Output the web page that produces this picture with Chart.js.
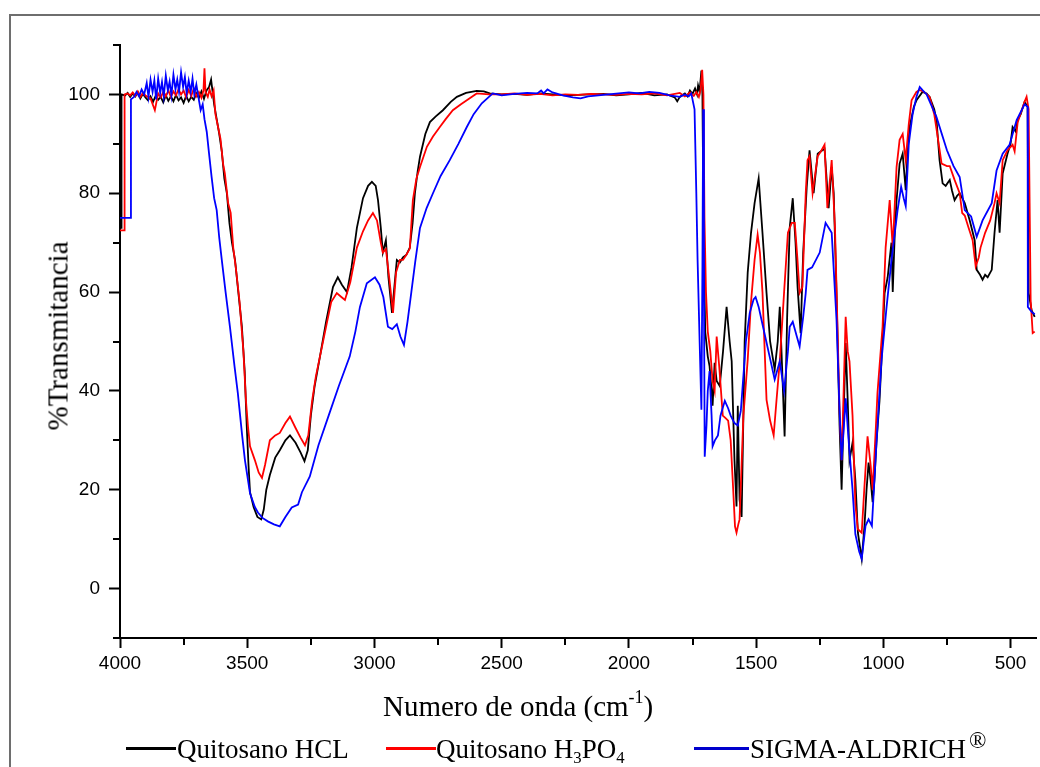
<!DOCTYPE html>
<html>
<head>
<meta charset="utf-8">
<title>Espectro FTIR quitosano</title>
<script src="https://cdn.jsdelivr.net/npm/chart.js@4.4.1/dist/chart.umd.min.js"></script>
<style>
    html, body { margin: 0; padding: 0; background: #fff; overflow: hidden; }
    #wrap { position: relative; width: 1040px; height: 767px; overflow: hidden; }
    #chart { position: absolute; left: 0; top: 0; }
    .frame { position: absolute; left: 9px; top: 14px; width: 1200px; height: 900px; border: 2px solid #6e6e6e; box-sizing: border-box; }
    .serif { position: absolute; font-family: 'Liberation Serif', 'Times New Roman', serif; color: #000; white-space: nowrap; line-height: 1; }
    .ytitle { font-size: 29px; left: 58px; top: 336px; transform: translate(-50%, -50%) rotate(-90deg); }
    .xtitle { font-size: 29px; left: 383px; top: 692px; }
    .legend-text { font-size: 27px; top: 736px; }
    .legend-line { position: absolute; top: 747px; height: 3px; }
    sub, sup { font-size: 62%; line-height: 0; }
    sub { vertical-align: -0.3em; }
    sup { vertical-align: 0.75em; }
    sup.reg { font-size: 85%; vertical-align: 0.45em; margin-left: 3px; }
</style>
</head>
<body>
<div id="wrap">
    <div class="frame"></div>
    <canvas id="chart" width="1040" height="767"></canvas>
    <div class="serif ytitle">%Transmitancia</div>
    <div class="serif xtitle">Numero de onda (cm<sup>-1</sup>)</div>
    <div class="legend-line" style="left:126px;width:50px;background:#000;"></div>
    <div class="serif legend-text" style="left:177px;">Quitosano HCL</div>
    <div class="legend-line" style="left:386px;width:50px;background:#ff0000;"></div>
    <div class="serif legend-text" style="left:436px;">Quitosano H<sub>3</sub>PO<sub>4</sub></div>
    <div class="legend-line" style="left:694px;width:55px;background:#0000cc;"></div>
    <div class="serif legend-text" style="left:750px;">SIGMA-ALDRICH<sup class="reg">&reg;</sup></div>
</div>
<script>
// --- data (wavenumber in cm-1, %T) ---
const wnHCL = [4000, 3996, 3994, 3980, 3970, 3960, 3950, 3940, 3930, 3920, 3910, 3900, 3890, 3880, 3870, 3860, 3850, 3840, 3830, 3820, 3810, 3800, 3790, 3780, 3770, 3760, 3750, 3740, 3730, 3720, 3710, 3700, 3690, 3680, 3670, 3660, 3650, 3642, 3636, 3630, 3620, 3610, 3600, 3590, 3580, 3570, 3560, 3548, 3535, 3521, 3510, 3502, 3495, 3489, 3475, 3460, 3445, 3435, 3425, 3411, 3390, 3372, 3350, 3332, 3310, 3290, 3275, 3262, 3250, 3235, 3214, 3190, 3163, 3144, 3128, 3108, 3090, 3069, 3045, 3025, 3010, 2995, 2986, 2975, 2967, 2955, 2945, 2931, 2920, 2912, 2900, 2888, 2875, 2861, 2850, 2841, 2830, 2821, 2800, 2782, 2760, 2731, 2700, 2676, 2640, 2598, 2570, 2547, 2500, 2450, 2400, 2350, 2300, 2250, 2200, 2150, 2100, 2050, 2000, 1950, 1900, 1850, 1820, 1810, 1800, 1780, 1770, 1760, 1750, 1740, 1732, 1728, 1722, 1715, 1711, 1706, 1700, 1690, 1683, 1675, 1671, 1663, 1655, 1643, 1630, 1616, 1604, 1596, 1585, 1577, 1572, 1565, 1557, 1550, 1545, 1533, 1520, 1506, 1490, 1475, 1459, 1445, 1427, 1415, 1407, 1398, 1388, 1378, 1368, 1356, 1345, 1337, 1325, 1315, 1301, 1290, 1274, 1258, 1245, 1231, 1215, 1203, 1195, 1184, 1172, 1164, 1156, 1148, 1140, 1133, 1121, 1110, 1100, 1085, 1074, 1066, 1058, 1050, 1042, 1035, 1027, 1015, 1007, 995, 983, 968, 963, 955, 948, 936, 924, 912, 905, 897, 880, 869, 846, 830, 818, 800, 791, 779, 767, 755, 739, 730, 720, 710, 700, 690, 680, 661, 641, 633, 620, 610, 600, 590, 574, 563, 551, 543, 531, 512, 500, 492, 480, 472, 460, 445, 433, 429, 417, 405];
const tHCL = [73, 73, 100, 99.8, 100.3, 99.5, 100.2, 99.6, 100.4, 99.2, 100.1, 99.4, 98.8, 99.6, 98.5, 99.7, 98.9, 99.5, 98.4, 99.8, 98.7, 99.6, 98.6, 99.9, 98.8, 99.4, 98.3, 99.7, 98.6, 99.5, 98.9, 100.2, 99.3, 100.6, 99.1, 100.8, 101.5, 103, 100.5, 98, 95, 92, 88.5, 83, 80, 74, 70, 66.5, 60, 53, 44, 33, 25, 19.5, 16.5, 14.5, 14, 16, 20, 23, 26.5, 28, 30, 31, 29.5, 27.5, 25.8, 28, 35, 41, 47, 54, 61, 63, 61.5, 60, 65, 73, 79, 81.5, 82.3, 81.5, 78.6, 73, 68, 70.5, 63, 55.8, 62, 66.5, 66, 67, 67.5, 69, 74, 80, 84.5, 87.4, 92, 94.4, 95.5, 96.8, 98.5, 99.5, 100.3, 100.7, 100.6, 100.2, 100, 100.1, 99.9, 100.2, 100, 99.8, 99.9, 100, 100.1, 99.8, 100, 100.3, 99.8, 100, 99.4, 98.6, 99.5, 100.2, 99.6, 100.8, 100.1, 101.2, 100, 101.8, 100.6, 104.8, 100, 70, 52, 47, 45, 40, 37, 45.7, 42, 41, 48, 57, 50, 46, 26, 16.6, 37, 18, 14.5, 35, 50, 64, 72, 78, 83, 72, 59.8, 50, 44.3, 50, 57, 45, 30.8, 55, 73, 79, 70, 61, 51.7, 68, 81.3, 88.7, 80, 88, 88.5, 89, 77, 85.3, 80, 59.8, 33, 20, 35, 49.7, 38, 26, 29.5, 22, 11.3, 6, 12.7, 20, 25.5, 22, 17.5, 22, 29.5, 38, 46.3, 59.8, 63, 70, 60, 72, 78.6, 86, 88, 80.6, 88, 93.4, 97.5, 98.9, 100.5, 100.2, 99.5, 97, 94.8, 86.7, 82, 81.5, 82.7, 80.5, 78.6, 79.5, 80, 79, 78, 74.6, 70.5, 64.5, 63.5, 62.5, 63.5, 63, 64.5, 72, 78.6, 72, 84, 88, 90, 93.4, 92.5, 94.8, 96, 98.5, 97.5, 59.8, 56.3, 55];

const wnH3PO4 = [4000, 3984, 3982, 3970, 3960, 3950, 3940, 3930, 3920, 3910, 3900, 3880, 3863, 3850, 3840, 3830, 3820, 3810, 3800, 3790, 3780, 3770, 3760, 3750, 3740, 3730, 3720, 3710, 3700, 3690, 3680, 3672, 3668, 3664, 3655, 3648, 3640, 3632, 3625, 3615, 3605, 3595, 3588, 3575, 3565, 3555, 3545, 3530, 3515, 3505, 3497, 3489, 3470, 3455, 3442, 3430, 3411, 3390, 3372, 3350, 3332, 3310, 3290, 3273, 3260, 3245, 3230, 3214, 3190, 3170, 3148, 3130, 3116, 3095, 3069, 3045, 3025, 3006, 2990, 2975, 2967, 2955, 2940, 2927, 2915, 2900, 2888, 2875, 2861, 2849, 2835, 2821, 2794, 2770, 2743, 2720, 2692, 2660, 2637, 2598, 2550, 2500, 2450, 2400, 2350, 2300, 2250, 2200, 2150, 2100, 2050, 2000, 1950, 1900, 1850, 1800, 1780, 1760, 1745, 1735, 1725, 1718, 1712, 1707, 1703, 1697, 1690, 1680, 1671, 1663, 1655, 1645, 1631, 1620, 1610, 1600, 1590, 1583, 1577, 1570, 1565, 1550, 1533, 1520, 1506, 1494, 1485, 1475, 1459, 1445, 1431, 1420, 1407, 1390, 1375, 1360, 1348, 1338, 1329, 1318, 1305, 1298, 1290, 1278, 1258, 1245, 1231, 1220, 1203, 1190, 1172, 1164, 1156, 1148, 1140, 1133, 1121, 1110, 1100, 1085, 1075, 1062, 1050, 1042, 1030, 1023, 1003, 991, 975, 963, 948, 936, 924, 912, 900, 889, 870, 857, 840, 818, 800, 791, 771, 750, 739, 720, 700, 690, 680, 665, 649, 637, 625, 618, 600, 580, 563, 555, 543, 531, 512, 492, 484, 472, 445, 437, 429, 421, 413, 405];
const tH3PO4 = [72.5, 72.5, 100, 100.2, 99.8, 100.4, 99.7, 100.6, 99.5, 100.3, 99.8, 99.2, 96.8, 100.2, 99.4, 100.5, 99.6, 100.8, 99.5, 100.6, 99.8, 101, 100, 100.8, 99.4, 100.9, 99.7, 101.2, 99.6, 100.5, 99.3, 100.8, 105.3, 100.5, 99.5, 101, 99.6, 100.8, 96, 93.5, 91, 86, 84, 78, 76, 69, 65, 58, 48, 38, 32.8, 28.8, 26, 23.5, 22.4, 25, 30, 31, 31.5, 33.5, 34.8, 32.5, 30.5, 29, 31, 38, 43, 47, 53, 58, 59.8, 59, 58.4, 62, 69, 72.3, 74.5, 76, 74.5, 70, 68, 68.7, 62, 55.8, 64, 66.5, 66.5, 67.5, 68.8, 78.6, 83, 85.3, 89.4, 91.5, 93.4, 95, 96.8, 98, 98.8, 100.2, 100, 100, 100.2, 99.9, 100.1, 99.8, 100, 99.9, 100.1, 100, 99.9, 100.1, 100, 100.2, 99.8, 100.3, 99.6, 100.4, 99.7, 100.5, 99.5, 101, 105, 100, 75, 60, 52, 48, 42, 40, 51, 45, 35, 34.5, 34, 30, 20, 12.6, 11.3, 13, 14, 35, 46.3, 58, 66.5, 71.6, 68, 60, 38.2, 34, 31, 38, 46, 60, 72, 74, 74, 67, 59.8, 61, 80, 86.7, 87.5, 80, 87.5, 88.5, 89.8, 77, 86.7, 73, 36, 26, 40, 55, 48, 46, 35, 17, 12, 11.3, 20, 30.8, 25, 20, 32, 39.6, 53, 69, 78.6, 69, 85.3, 90.8, 92, 86.7, 94, 98.8, 100.5, 100.9, 100.5, 99.5, 96, 93, 86, 85.5, 85.5, 82.7, 80, 76, 75.5, 73, 70.5, 65.2, 67, 69, 72, 74.5, 78, 80, 78, 86.7, 88.7, 89.8, 88.5, 94.4, 98.5, 99.5, 97, 58.4, 51.7, 52];

const wnSigma = [4000, 3960, 3957, 3945, 3935, 3925, 3915, 3905, 3895, 3888, 3880, 3872, 3865, 3858, 3850, 3842, 3835, 3828, 3820, 3812, 3805, 3798, 3790, 3782, 3775, 3768, 3760, 3752, 3745, 3738, 3730, 3722, 3715, 3708, 3700, 3692, 3683, 3675, 3668, 3659, 3650, 3640, 3630, 3620, 3610, 3600, 3585, 3568, 3550, 3537, 3520, 3509, 3489, 3470, 3458, 3440, 3419, 3395, 3372, 3350, 3325, 3300, 3285, 3254, 3220, 3180, 3140, 3097, 3075, 3057, 3030, 2998, 2980, 2965, 2947, 2930, 2912, 2898, 2884, 2870, 2855, 2840, 2821, 2795, 2770, 2740, 2704, 2670, 2637, 2610, 2578, 2535, 2500, 2450, 2400, 2360, 2345, 2335, 2320, 2300, 2260, 2220, 2190, 2160, 2120, 2080, 2040, 2000, 1960, 1920, 1880, 1840, 1800, 1780, 1765, 1755, 1750, 1742, 1735, 1730, 1722, 1715, 1711, 1708, 1705, 1702, 1695, 1690, 1683, 1675, 1671, 1662, 1650, 1640, 1623, 1610, 1600, 1585, 1572, 1560, 1550, 1540, 1525, 1510, 1502, 1490, 1475, 1460, 1447, 1427, 1407, 1390, 1375, 1368, 1356, 1340, 1329, 1315, 1305, 1298, 1280, 1250, 1227, 1215, 1203, 1190, 1184, 1172, 1164, 1156, 1148, 1135, 1121, 1110, 1095, 1085, 1070, 1058, 1045, 1027, 1007, 988, 968, 944, 930, 920, 912, 900, 885, 870, 857, 845, 830, 791, 750, 724, 700, 680, 655, 633, 610, 574, 555, 531, 504, 476, 445, 433, 432, 417, 405];
const tSigma = [75, 75, 99, 99.5, 100.5, 99.6, 101, 100, 102.3, 99.5, 103, 100.5, 102.8, 99, 103.2, 100.3, 102.5, 99.6, 103.8, 100.8, 102.6, 99.8, 104, 101, 103, 100.5, 104.5, 101.5, 103.5, 100.2, 102.8, 100.5, 103.2, 100, 102, 99.5, 96.8, 98, 95, 92.4, 88, 83.3, 79, 76.6, 71, 66.5, 60, 53, 45, 39.6, 31, 26, 19.3, 16.5, 15.4, 14.3, 13.6, 13, 12.6, 14.5, 16.4, 17, 19.5, 22.7, 29, 35, 41, 47, 52, 57, 61.8, 63, 61.5, 59, 53, 52.5, 53.5, 51, 49.3, 54, 60, 66, 73, 77, 80, 83.5, 86.7, 90, 93.4, 96, 98.2, 100.2, 99.8, 100.1, 100.3, 100.2, 100.8, 100.2, 101, 100.4, 99.8, 99.4, 99.2, 99.6, 99.8, 100, 100.2, 100.4, 100.2, 100.5, 100.3, 99.8, 99.5, 100, 99.6, 100.2, 99, 97, 80, 66.5, 50, 36.2, 65, 97, 60, 26.7, 33, 40, 44, 35, 28.8, 30, 31, 35, 38, 36.5, 35, 33.5, 33, 36, 43, 50, 55.8, 58.5, 59, 57, 53.5, 50, 47, 42.3, 46, 40, 48, 53, 54, 51, 49, 55, 59.8, 64.5, 65, 68, 74, 73, 72, 60, 54.4, 36, 26, 32, 38.5, 29, 20, 11, 7.5, 6, 12.7, 14, 12.7, 29.5, 46.3, 56.6, 66.5, 76.6, 81.3, 79, 77.4, 90, 96, 99.5, 101.5, 100.8, 100, 95.4, 88.7, 85.5, 83.3, 76.6, 75.3, 71.2, 74.5, 78, 84.6, 88, 89.8, 94.8, 98, 97.5, 57, 56, 55.5];

const xTicks = [4000, 3750, 3500, 3250, 3000, 2750, 2500, 2250, 2000, 1750, 1500, 1250, 1000, 750, 500];
const yTicks = [-10, 0, 10, 20, 30, 40, 50, 60, 70, 80, 90, 100, 110];

document.addEventListener('DOMContentLoaded', () => {
    const toPoints = (wn, t) => wn.map((w, i) => ({ x: w, y: t[i] }));

    const isMajorX = v => v % 500 === 0;
    const isMajorY = v => v % 20 === 0;

    // short minor ticks, drawn by hand since Chart.js has one tick length per axis
    const minorTicks = {
        id: 'minorTicks',
        afterDraw(chart) {
            const { ctx, scales: { x, y } } = chart;
            ctx.save();
            ctx.strokeStyle = '#000';
            ctx.lineWidth = 2;
            ctx.beginPath();
            xTicks.filter(v => !isMajorX(v)).forEach(v => {
                const px = Math.round(x.getPixelForValue(v));
                ctx.moveTo(px, x.top);
                ctx.lineTo(px, x.top + 7);
            });
            yTicks.filter(v => !isMajorY(v)).forEach(v => {
                const py = Math.round(y.getPixelForValue(v));
                ctx.moveTo(y.right, py);
                ctx.lineTo(y.right - 7, py);
            });
            ctx.stroke();
            ctx.restore();
        }
    };

    const tickFont = { family: "'Liberation Sans', Arial, sans-serif", size: 19 };

    new Chart(document.getElementById('chart'), {
        type: 'line',
        data: {
            datasets: [
                {
                    label: 'Quitosano HCL',
                    data: toPoints(wnHCL, tHCL),
                    borderColor: '#000000',
                    order: 3
                },
                {
                    label: 'Quitosano H3PO4',
                    data: toPoints(wnH3PO4, tH3PO4),
                    borderColor: '#ff0000',
                    order: 2
                },
                {
                    label: 'SIGMA-ALDRICH',
                    data: toPoints(wnSigma, tSigma),
                    borderColor: '#0000ff',
                    order: 1
                }
            ]
        },
        options: {
            responsive: false,
            animation: false,
            devicePixelRatio: 1,
            layout: { padding: { left: 0, right: 4, top: 45, bottom: 0 } },
            elements: {
                point: { radius: 0 },
                line: { borderWidth: 1.8, tension: 0 }
            },
            plugins: {
                legend: { display: false },
                tooltip: { enabled: false }
            },
            scales: {
                x: {
                    type: 'linear',
                    reverse: true,
                    min: 400,
                    max: 4000,
                    afterFit: scale => { scale.height = 129; },
                    afterBuildTicks: scale => { scale.ticks = xTicks.map(v => ({ value: v })); },
                    border: { display: true, color: '#000', width: 2 },
                    grid: {
                        drawOnChartArea: false,
                        tickLength: 10,
                        tickWidth: 2,
                        tickColor: c => (c.tick && isMajorX(c.tick.value) ? '#000' : 'rgba(0,0,0,0)')
                    },
                    ticks: {
                        color: '#000',
                        font: tickFont,
                        padding: 4,
                        maxRotation: 0,
                        autoSkip: false,
                        callback: v => (isMajorX(v) ? String(v) : '')
                    }
                },
                y: {
                    min: -10,
                    max: 110,
                    afterFit: scale => { scale.width = 120; },
                    afterBuildTicks: scale => { scale.ticks = yTicks.map(v => ({ value: v })); },
                    border: { display: true, color: '#000', width: 2 },
                    grid: {
                        drawOnChartArea: false,
                        tickLength: 11,
                        tickWidth: 2,
                        tickColor: c => (c.tick && isMajorY(c.tick.value) ? '#000' : 'rgba(0,0,0,0)')
                    },
                    ticks: {
                        color: '#000',
                        font: tickFont,
                        padding: 9,
                        autoSkip: false,
                        callback: v => (isMajorY(v) ? String(v) : '')
                    }
                }
            }
        },
        plugins: [minorTicks]
    });
});
</script>
</body>
</html>
